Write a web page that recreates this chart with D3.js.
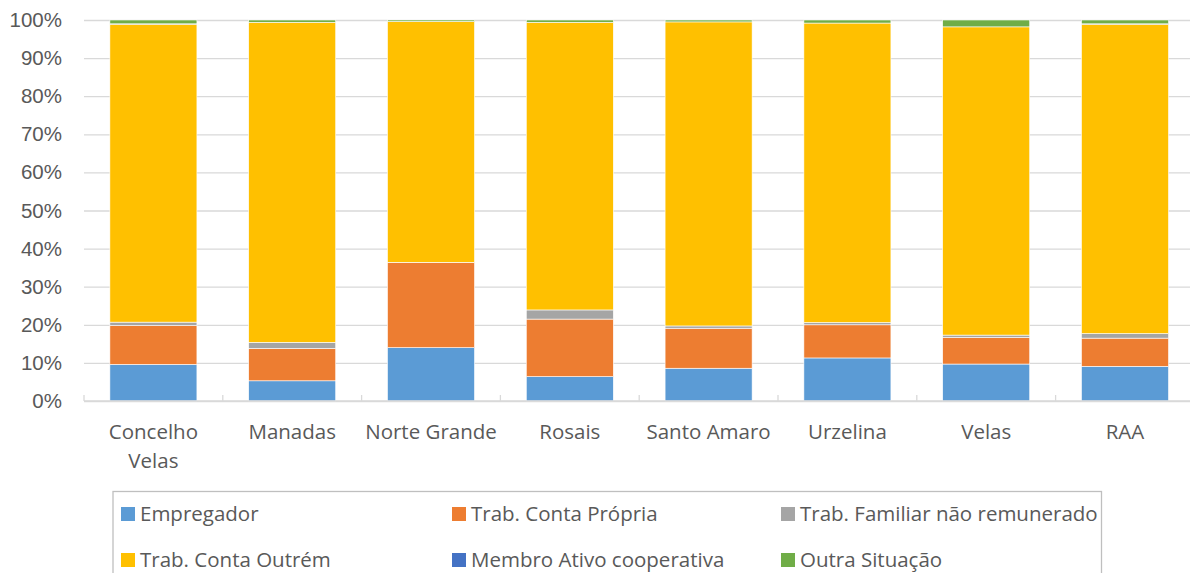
<!DOCTYPE html>
<html>
<head>
<meta charset="utf-8">
<script src="https://cdn.jsdelivr.net/npm/d3@7"></script>
<style>
  body { margin: 0; background: #fff; }
  svg { display: block; font-family: "Open Sans", "Noto Sans", sans-serif; }
</style>
</head>
<body>
<div id="chart"></div>
<script>
// Categories (freguesias) and series, values in %
const categories = ["Concelho Velas", "Manadas", "Norte Grande", "Rosais", "Santo Amaro", "Urzelina", "Velas", "RAA"];
const seriesNames = ["Empregador", "Trab. Conta Própria", "Trab. Familiar não remunerado", "Trab. Conta Outrém", "Membro Ativo cooperativa", "Outra Situação"];
const seriesColors = ["#5B9BD5", "#ED7D31", "#A5A5A5", "#FFC000", "#4472C4", "#70AD47"];

const empregador = [9.6, 5.3, 14.0, 6.4, 8.6, 11.3, 9.7, 9.1];
const contaPropria = [10.2, 8.5, 22.3, 15.1, 10.5, 8.7, 7.0, 7.4];
const familiar = [0.9, 1.6, 0.1, 2.4, 0.6, 0.6, 0.6, 1.2];
const contaOutrem = [78.2, 84.0, 63.2, 75.5, 79.8, 78.6, 80.9, 81.2];
const membroCoop = [0.1, 0.0, 0.0, 0.0, 0.0, 0.0, 0.0, 0.1];
const outra = [1.0, 0.6, 0.4, 0.6, 0.5, 0.8, 1.8, 1.0];

const yTicks = [0, 0.1, 0.2, 0.3, 0.4, 0.5, 0.6, 0.7, 0.8, 0.9, 1];

const seriesValues = [empregador, contaPropria, familiar, contaOutrem, membroCoop, outra];
const rows = categories.map((c, i) => {
    const r = {category: c};
    seriesNames.forEach((s, j) => r[s] = seriesValues[j][i]);
    return r;
});

const width = 1190;
const height = 573;
const marginLeft = 84;
const plotRight = 1194.4;
const y0 = 401;
const y1 = 20;
const fontSize = 20.5;

const textColor = "#595959";
const gridColor = "#D9D9D9";

const x = d3.scaleBand()
    .domain(categories)
    .range([marginLeft, plotRight])
    .paddingInner(0.373)
    .paddingOuter(0.1865);

const y = d3.scaleLinear()
    .domain([0, 1])
    .range([y0, y1]);

const stack = d3.stack()
    .keys(seriesNames)
    .offset(d3.stackOffsetExpand);
const stacked = stack(rows);

const color = d3.scaleOrdinal().domain(seriesNames).range(seriesColors);

const svg = d3.create("svg")
    .attr("width", width)
    .attr("height", height)
    .attr("viewBox", [0, 0, width, height]);

// gridlines + y axis
svg.append("g")
    .attr("transform", `translate(${marginLeft},0)`)
    .call(d3.axisLeft(y).tickValues(yTicks).tickFormat(d3.format(".0%")).tickSize(0).tickPadding(22))
    .call(g => g.select(".domain").remove())
    .call(g => g.selectAll(".tick line").clone()
        .attr("x2", plotRight - marginLeft)
        .attr("stroke", gridColor)
        .attr("stroke-width", 1.3))
    .call(g => g.selectAll(".tick text")
        .attr("fill", textColor)
        .attr("font-size", fontSize));

// bars
svg.append("g")
    .selectAll("g")
    .data(stacked)
    .join("g")
    .attr("fill", d => color(d.key))
    .selectAll("rect")
    .data(d => d)
    .join("rect")
    .attr("x", d => x(d.data.category))
    .attr("y", d => y(d[1]))
    .attr("height", d => Math.max(0, y(d[0]) - y(d[1])))
    .attr("width", x.bandwidth())
    .attr("stroke", "#fff")
    .attr("stroke-width", 0.6);

// x axis
const xAxis = svg.append("g")
    .attr("transform", `translate(0,${y0})`);
xAxis.append("line")
    .attr("x1", marginLeft)
    .attr("x2", plotRight)
    .attr("stroke", gridColor)
    .attr("stroke-width", 1.3);
xAxis.selectAll(".sep")
    .data(d3.range(categories.length + 1))
    .join("line")
    .attr("class", "sep")
    .attr("x1", i => marginLeft + i * x.step())
    .attr("x2", i => marginLeft + i * x.step())
    .attr("y1", 0)
    .attr("y2", -6)
    .attr("stroke", gridColor)
    .attr("stroke-width", 1.3);

xAxis.selectAll(".lbl")
    .data(categories)
    .join("text")
    .attr("class", "lbl")
    .attr("fill", textColor)
    .attr("font-size", fontSize)
    .attr("text-anchor", "middle")
    .attr("x", d => x(d) + x.bandwidth() / 2)
    .each(function (d) {
        const t = d3.select(this);
        const parts = d === "Concelho Velas" ? ["Concelho", "Velas"] : [d];
        parts.forEach((p, i) => t.append("tspan")
            .attr("x", x(d) + x.bandwidth() / 2)
            .attr("y", 38 + i * 29)
            .text(p));
    });

// legend
const legend = svg.append("g");
legend.append("rect")
    .attr("x", 113)
    .attr("y", 491.5)
    .attr("width", 988.5)
    .attr("height", 100)
    .attr("fill", "none")
    .attr("stroke", "#BFBFBF")
    .attr("stroke-width", 1.3);

const colX = [121, 452, 781];
const rowY = [514, 560];
const item = legend.selectAll(".item")
    .data(seriesNames)
    .join("g")
    .attr("class", "item")
    .attr("transform", (d, i) => `translate(${colX[i % 3]},${rowY[Math.floor(i / 3)]})`);
item.append("rect")
    .attr("x", 0)
    .attr("y", -7)
    .attr("width", 14)
    .attr("height", 14)
    .attr("fill", d => color(d));
item.append("text")
    .attr("x", 19)
    .attr("dy", "0.35em")
    .attr("fill", textColor)
    .attr("font-size", fontSize)
    .text(d => d);

document.getElementById("chart").append(svg.node());
</script>
</body>
</html>
